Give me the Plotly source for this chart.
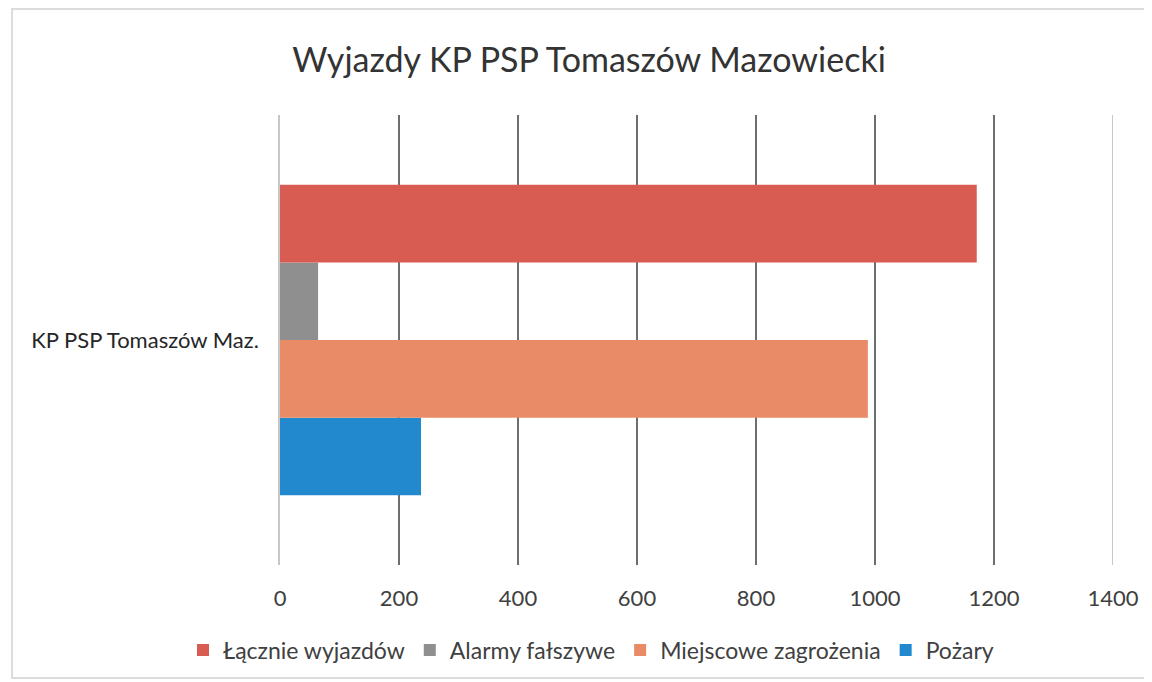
import plotly.graph_objects as go

category = ["KP PSP Tomaszów Maz."]
series_names = ["Łącznie wyjazdów", "Alarmy fałszywe", "Miejscowe zagrożenia", "Pożary"]
series_values = [1171, 64, 988, 237]
series_colors = ["#D95C53", "#8F8F8F", "#E98B66", "#2389CF"]
x_ticks = [0, 200, 400, 600, 800, 1000, 1200, 1400]

FONT = "Lato"
W, H = 1144, 674          # page body has an 8px margin
L, R, T, B = 272, 39, 107, 117
PW, PH = W - L - R, H - T - B
GRID = "#6e6e6e"

fig = go.Figure()
# plotly stacks horizontal grouped bars bottom-up, so add in reverse
for name, val, col in reversed(list(zip(series_names, series_values, series_colors))):
    fig.add_trace(go.Bar(
        y=category, x=[val], name=name, orientation="h",
        marker=dict(color=col, line=dict(width=0)),
    ))

fig.update_layout(
    width=W, height=H,
    barmode="group", bargap=0.31, bargroupgap=0,
    paper_bgcolor="white", plot_bgcolor="white",
    margin=dict(l=L, r=R, t=T, b=B),
    font=dict(family=FONT, color="#404040"),
    title=dict(text="Wyjazdy KP PSP Tomaszów Mazowiecki",
               x=581 / W, xanchor="center", xref="container",
               y=1 - 52 / H, yanchor="middle", yref="container",
               font=dict(family=FONT, size=34, color="#333333")),
    legend=dict(orientation="h", traceorder="reversed",
                x=583 / W, xanchor="center", xref="container",
                y=1 - 642 / H, yanchor="middle", yref="container",
                font=dict(family=FONT, size=23, color="#404040"),
                itemwidth=30, tracegroupgap=0),
    xaxis=dict(range=[0, 1400], tickvals=x_ticks, ticktext=[str(t) for t in x_ticks],
               showgrid=True, gridcolor=GRID, gridwidth=1.5,
               zeroline=False, showline=False, ticks="",
               ticklabelstandoff=18,
               tickfont=dict(family=FONT, size=22, color="#404040")),
    yaxis=dict(showline=True, linecolor="#c8c8c8", linewidth=1.5, ticks="",
               showgrid=False, zeroline=False,
               ticklabelstandoff=15,
               tickfont=dict(family=FONT, size=22, color="#262626")),
    shapes=[
        dict(type="rect", xref="paper", yref="paper",
             x0=(4 - L) / PW, x1=1 + (1140 - L - PW) / PW,
             y0=-(670 - T - PH) / PH, y1=1 + (T - 1) / PH,
             line=dict(color="#dcdcdc", width=2), fillcolor="rgba(0,0,0,0)",
             layer="below"),
        # gridline at the last tick (plotly drops the one on the range edge)
        dict(type="line", xref="x", yref="paper",
             x0=x_ticks[-1], x1=x_ticks[-1], y0=0, y1=1,
             line=dict(color="#b4b4b4", width=1.5), layer="below"),
    ],
)

fig.write_html("out.html")
